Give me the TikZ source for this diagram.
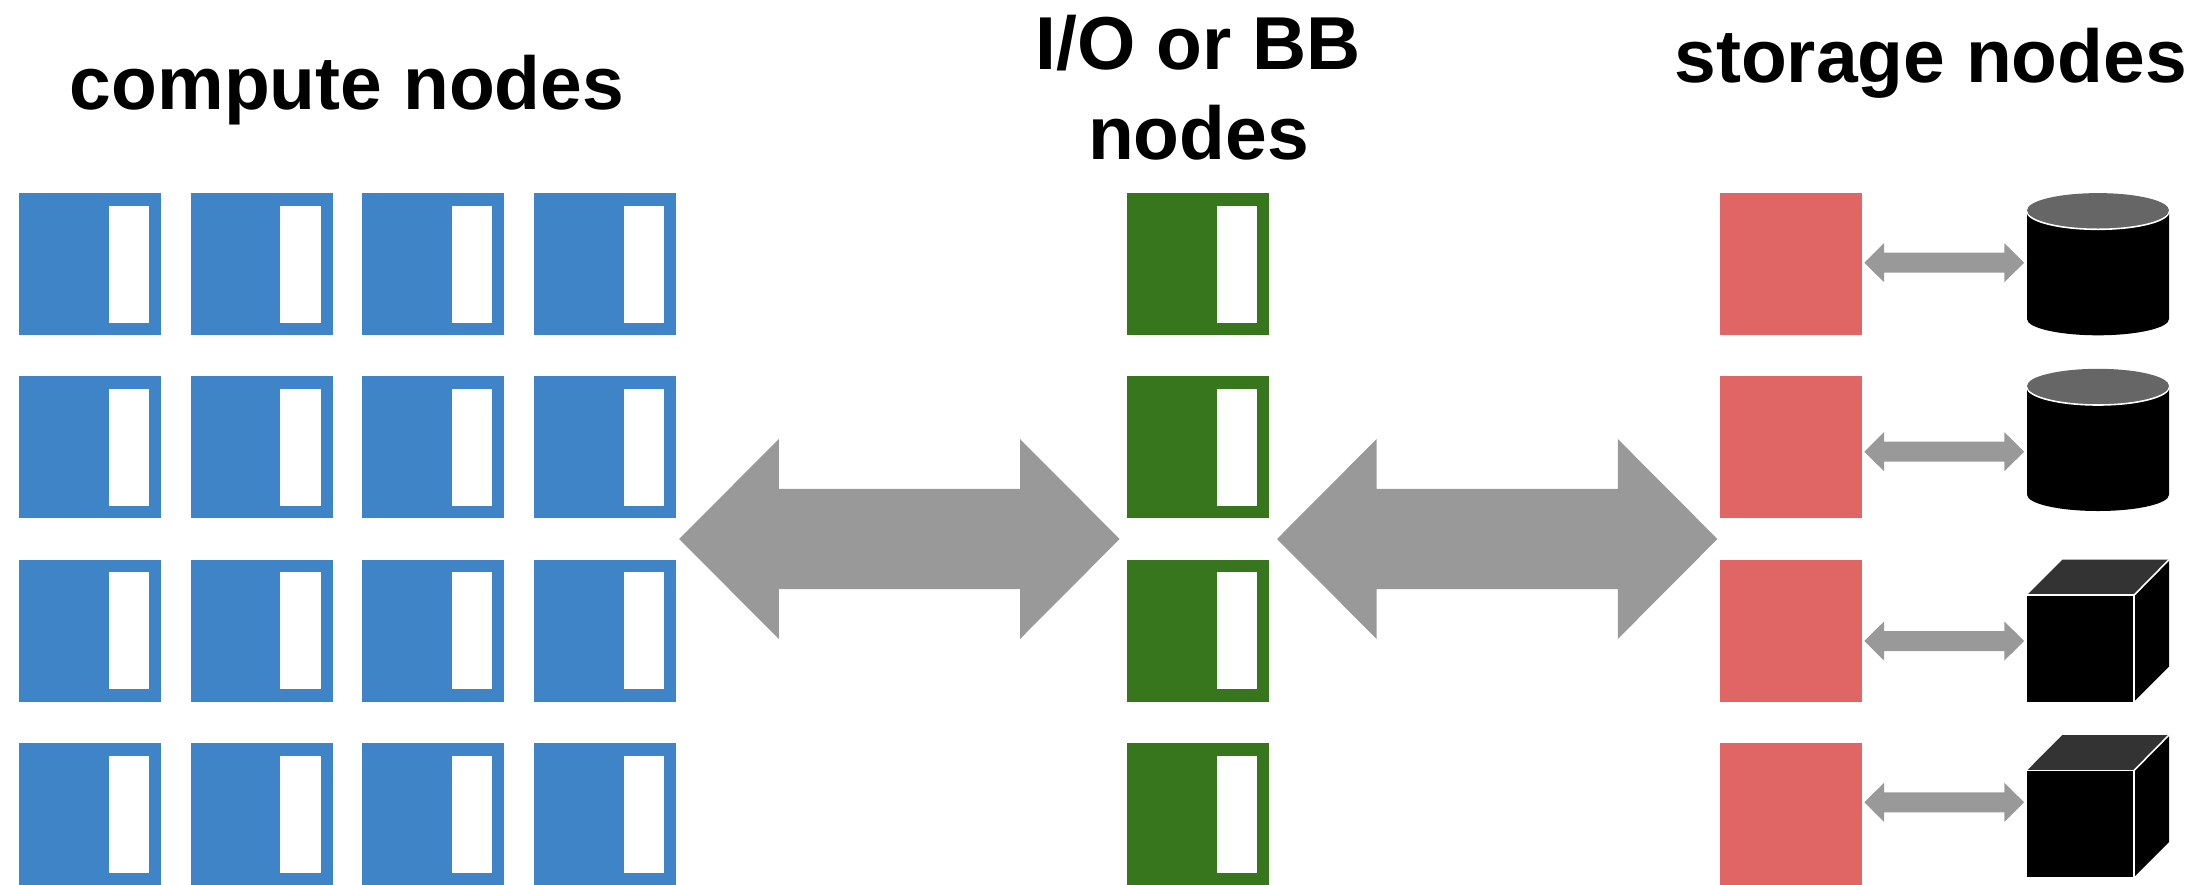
\documentclass[tikz,border=0pt]{standalone}
\usepackage{fontspec}
\setmainfont{Liberation Sans}
\definecolor{cblue}{HTML}{3F84C6}
\definecolor{cgreen}{HTML}{38761D}
\definecolor{cred}{HTML}{E06666}
\definecolor{carrow}{HTML}{999999}
\definecolor{ctopc}{HTML}{666666}
\definecolor{ctopb}{HTML}{333333}
\tikzset{
  x=1pt,y=-1pt,
  nodebox/.style={rectangle,minimum width=142pt,minimum height=142pt,inner sep=0pt,outer sep=0pt,anchor=north west,draw=none},
  slot/.style={rectangle,fill=white,minimum width=40.5pt,minimum height=117pt,inner sep=0pt,outer sep=0pt,draw=none},
  title/.style={font=\fontsize{75}{88}\selectfont\bfseries,inner sep=0pt,outer sep=0pt,align=center,anchor=base},
  shapeedge/.style={draw=white,line width=1.6pt,line join=miter},
}
% #1 name, #2 x, #3 y, #4 colour
\newcommand{\slotbox}[4]{%
  \node[nodebox,fill=#4] (#1) at (#2,#3) {};
  \node[slot] (#1s) at ([xshift=-32.25pt]#1.east) {};
}
% double arrow: #1 centre coordinate, half-length, head length, half-height, half-shaft
\newcommand{\dblarrow}[5]{%
  \fill[carrow] (#1) ++(-#2,0) -- ++(#3,-#4) -- ++(0,#4-#5) -- ++(2*#2-2*#3,0) -- ++(0,#5-#4) -- ++(#3,#4)
    -- ++(-#3,#4) -- ++(0,#5-#4) -- ++(2*#3-2*#2,0) -- ++(0,#4-#5) -- cycle;
}
\newcommand{\cyl}[2]{%
  \coordinate (#2) at (2027,#1);
  \fill[black] (2027,#1+18) -- (2027,#1+125.7) arc[start angle=180,end angle=0,x radius=71,y radius=16.3] -- (2169,#1+18) -- cycle;
  \path[fill=ctopc,shapeedge] (2098,#1+18) ellipse[x radius=71,y radius=18];
  \fill[ctopc] (2098,#1+17) ellipse[x radius=71,y radius=17.2];
}
\newcommand{\cube}[2]{%
  \coordinate (#2) at (2027,#1);
  \path[fill=black] (2134,#1+35.5) -- (2169,#1) -- (2169,#1+107) -- (2134,#1+142) -- cycle;
  \fill[ctopb] (2027,#1+35.5) -- (2062.3,#1) -- (2169,#1) -- (2134,#1+35.5) -- cycle;
  \fill[black] (2027,#1+35.5) rectangle (2134,#1+142);
  \draw[shapeedge] (2027,#1+35.5) -- (2134,#1+35.5) -- (2134,#1+142);
  \draw[shapeedge] (2134,#1+35.5) -- (2169,#1);
}
\begin{document}
\begin{tikzpicture}
\useasboundingbox (0,0) rectangle (2198,884);
\foreach \r/\y in {1/193.3,2/376.4,3/559.7,4/743}{
  \foreach \c/\x in {1/19,2/190.7,3/362.4,4/534.1}{
    \slotbox{c\c r\r}{\x}{\y}{cblue}
  }
  \slotbox{io\r}{1127}{\y}{cgreen}
  \node[nodebox,fill=cred] (st\r) at (1719.7,\y) {};
}
\coordinate (bigA) at (899.4,539);
\coordinate (bigB) at (1497.2,539);
\dblarrow{bigA}{220.2}{99.6}{100}{50.1}
\dblarrow{bigB}{220.2}{99.6}{100}{50.1}
\foreach \n/\y in {1/262.7,2/451.7,3/641,4/802.3}{
  \coordinate (sm\n) at (1944.2,\y);
  \dblarrow{sm\n}{79.9}{19.7}{19.5}{10}
}
\cyl{193.3}{dbA}
\cyl{369}{dbB}
\cube{559.7}{cuA}
\cube{735}{cuB}
\node[title] (t1) at (347,109) {compute nodes};
\node[title] (t2) at (1198,69.3) {I/O or BB};
\node[title] (t2b) at (1198.5,159.3) {nodes};
\node[title] (t3) at (1930.7,82.7) {storage nodes};
\end{tikzpicture}
\end{document}
